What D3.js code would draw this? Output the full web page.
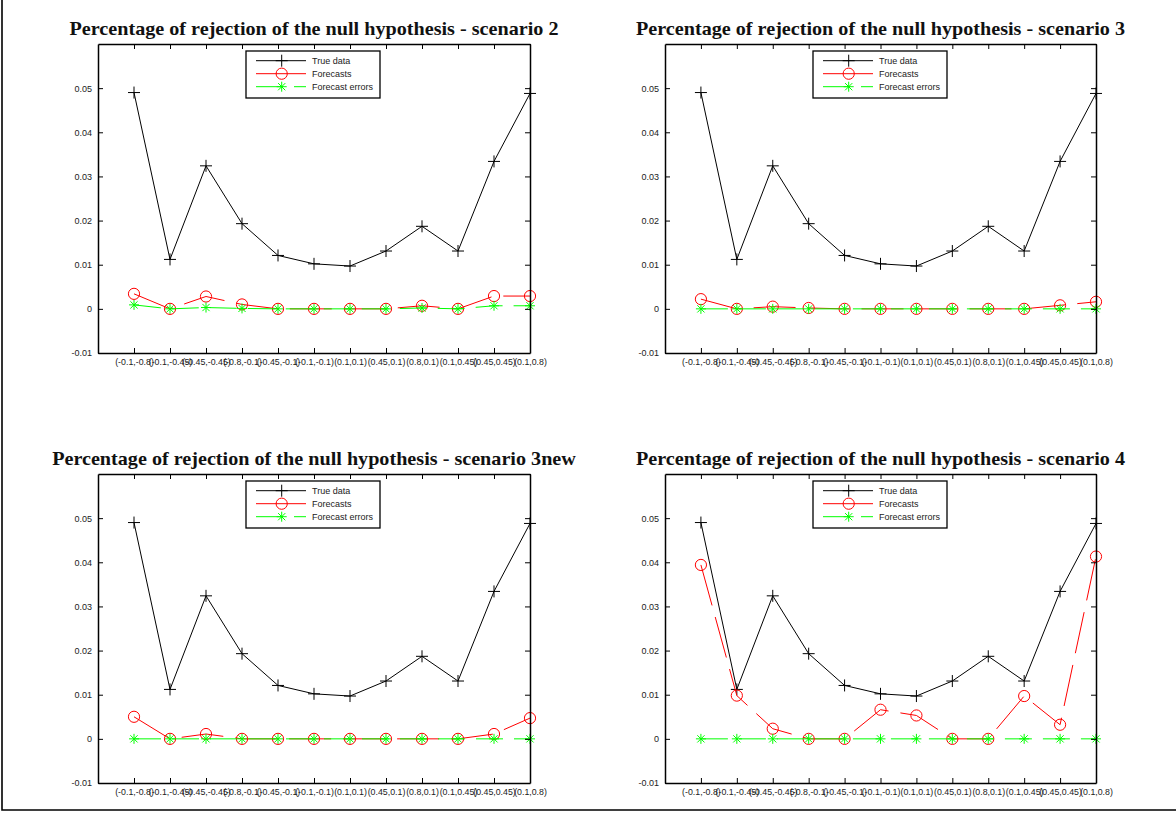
<!DOCTYPE html>
<html>
<head>
<meta charset="utf-8">
<script src="https://cdn.jsdelivr.net/npm/d3@7"></script>
<style>
  html, body { margin: 0; padding: 0; background: #fff; }
  svg { display: block; }
</style>
</head>
<body>
<svg id="fig" width="1176" height="814"></svg>
<script>
// Parameter pairs on the x axis
const categories = ["(-0.1,-0.8)", "(-0.1,-0.45)", "(-0.45,-0.45)", "(-0.8,-0.1)", "(-0.45,-0.1)", "(-0.1,-0.1)",
                    "(0.1,0.1)", "(0.45,0.1)", "(0.8,0.1)", "(0.1,0.45)", "(0.45,0.45)", "(0.1,0.8)"];
const yTickValues = [-0.01, 0, 0.01, 0.02, 0.03, 0.04, 0.05];
const yTickLabels = ["-0.01", "0", "0.01", "0.02", "0.03", "0.04", "0.05"];
const legendLabels = ["True data", "Forecasts", "Forecast errors"];

// Rejection rates of the null hypothesis
const trueData = [0.0490, 0.0112, 0.0324, 0.0193, 0.0121, 0.0102, 0.0097, 0.0131, 0.0187, 0.0131, 0.0334, 0.0488];

const forecastsScenario2 = [0.0034, 0, 0.0028, 0.0010, 0, 0, 0, 0, 0.0007, 0, 0.0029, 0.0029];
const errorsScenario2    = [0.0009, 0, 0.0003, 0.0001, 0, 0, 0, 0, 0.0002, 0, 0.0007, 0.0007];

const forecastsScenario3 = [0.0022, 0, 0.0005, 0.0002, 0, 0, 0, 0, 0, 0, 0.0008, 0.0016];
const errorsScenario3    = [0, 0, 0, 0, 0, 0, 0, 0, 0, 0, 0, 0];

const forecastsScenario3new = [0.0050, 0, 0.0011, 0, 0, 0, 0, 0, 0, 0, 0.0011, 0.0047];
const errorsScenario3new    = [0, 0, 0, 0, 0, 0, 0, 0, 0, 0, 0, 0];

const forecastsScenario4 = [0.0394, 0.0098, 0.0023, 0, 0, 0.0066, 0.0053, 0, 0, 0.0097, 0.0032, 0.0413];
const errorsScenario4    = [0, 0, 0, 0, 0, 0, 0, 0, 0, 0, 0, 0];

const panelTitles = [
  "Percentage of rejection of the null hypothesis - scenario 2",
  "Percentage of rejection of the null hypothesis - scenario 3",
  "Percentage of rejection of the null hypothesis - scenario 3new",
  "Percentage of rejection of the null hypothesis - scenario 4"
];

const panels = [
  { title: panelTitles[0], forecasts: forecastsScenario2,    errors: errorsScenario2,    x0: 98,  x1: 530,  y0: 44,  y1: 353 },
  { title: panelTitles[1], forecasts: forecastsScenario3,    errors: errorsScenario3,    x0: 665, x1: 1096, y0: 44,  y1: 353 },
  { title: panelTitles[2], forecasts: forecastsScenario3new, errors: errorsScenario3new, x0: 98,  x1: 530,  y0: 474, y1: 783 },
  { title: panelTitles[3], forecasts: forecastsScenario4,    errors: errorsScenario4,    x0: 665, x1: 1096, y0: 474, y1: 783 }
];

const BLACK = "#000000", RED = "#ff0000", GREEN = "#00ff00";
const svg = d3.select("#fig");

// figure frame (left and bottom edges)
svg.append("path")
  .attr("d", "M2,0 V810 H1176")
  .attr("fill", "none").attr("stroke", "#000").attr("stroke-width", 1.6);

// marker shapes
function plusPath(s) { return `M${-s},0H${s}M0,${-s}V${s}`; }
function starPath(s) { const d = s * 0.72; return `M${-s},0H${s}M0,${-s}V${s}M${-d},${-d}L${d},${d}M${-d},${d}L${d},${-d}`; }

function drawMarkers(g, pts, kind, color) {
  pts.forEach(([px, py]) => {
    if (kind === "plus") {
      g.append("path").attr("d", plusPath(6)).attr("transform", `translate(${px},${py})`)
        .attr("stroke", color).attr("stroke-width", 1).attr("fill", "none");
    } else if (kind === "circle") {
      g.append("circle").attr("cx", px).attr("cy", py).attr("r", 5.6)
        .attr("stroke", color).attr("stroke-width", 1).attr("fill", "none");
    } else {
      g.append("path").attr("d", starPath(5)).attr("transform", `translate(${px},${py})`)
        .attr("stroke", color).attr("stroke-width", 1).attr("fill", "none");
    }
  });
}

const titleNodes = [];

panels.forEach(p => {
  const g = svg.append("g");
  const x = d3.scaleLinear().domain([0, 12]).range([p.x0, p.x1]);
  const y = d3.scaleLinear().domain([-0.01, 0.06]).range([p.y1, p.y0]);
  const idx = d3.range(1, 13);

  // series
  const line = d3.line().x((d, i) => x(i + 1)).y(d => y(d));
  const series = [
    { data: trueData,    color: BLACK, dash: null,    kind: "plus" },
    { data: p.forecasts, color: RED,   dash: "42,12", kind: "circle" },
    { data: p.errors,    color: GREEN, dash: "27,11", kind: "star" }
  ];
  series.forEach(s => {
    g.append("path").datum(s.data).attr("d", line)
      .attr("fill", "none").attr("stroke", s.color).attr("stroke-width", 1)
      .attr("stroke-dasharray", s.dash);
    drawMarkers(g, s.data.map((d, i) => [x(i + 1), y(d)]), s.kind, s.color);
  });

  // axes with inward ticks on all four sides
  const fmtY = v => yTickLabels[yTickValues.findIndex(t => Math.abs(t - v) < 1e-9)];
  const axB = g.append("g").attr("transform", `translate(0,${p.y1})`)
    .call(d3.axisBottom(x).tickValues(idx).tickFormat(i => categories[i - 1]).tickSize(-5).tickSizeOuter(0).tickPadding(6));
  const axL = g.append("g").attr("transform", `translate(${p.x0},0)`)
    .call(d3.axisLeft(y).tickValues(yTickValues).tickFormat(fmtY).tickSize(-5).tickSizeOuter(0).tickPadding(6));
  const axT = g.append("g").attr("transform", `translate(0,${p.y0})`)
    .call(d3.axisTop(x).tickValues(idx).tickFormat("").tickSize(-5).tickSizeOuter(0));
  const axR = g.append("g").attr("transform", `translate(${p.x1},0)`)
    .call(d3.axisRight(y).tickValues(yTickValues).tickFormat("").tickSize(-5).tickSizeOuter(0));
  [axB, axL, axT, axR].forEach(a => {
    a.attr("font-family", "'Liberation Sans', Arial, sans-serif").attr("font-size", 9);
    a.select(".domain").attr("stroke-width", 1.5);
    a.selectAll(".tick line").attr("stroke-width", 1);
    a.selectAll(".tick text").attr("fill", "#222");
  });
  axB.attr("font-size", 8.8);

  // title
  const t = svg.append("text")
    .attr("x", (p.x0 + p.x1) / 2).attr("y", p.y0 - 9)
    .attr("text-anchor", "middle")
    .attr("font-family", "'Liberation Serif', 'Times New Roman', serif")
    .attr("font-weight", "bold").attr("font-size", 19.5)
    .attr("fill", "#111")
    .text(p.title);
  titleNodes.push(t);

  // legend
  const lx = p.x0 + 148, ly = p.y0 + 7;
  const lg = g.append("g").attr("transform", `translate(${lx},${ly})`);
  lg.append("rect").attr("x", 0).attr("y", 0).attr("width", 134).attr("height", 47)
    .attr("fill", "#fff").attr("stroke", "#000").attr("stroke-width", 1.3);
  const rows = [
    { label: legendLabels[0], color: BLACK, dash: null,    kind: "plus" },
    { label: legendLabels[1], color: RED,   dash: null,    kind: "circle" },
    { label: legendLabels[2], color: GREEN, dash: "27,11", kind: "star" }
  ];
  rows.forEach((r, i) => {
    const ry = 9.7 + i * 13;
    lg.append("line").attr("x1", 10).attr("x2", 60).attr("y1", ry).attr("y2", ry)
      .attr("stroke", r.color).attr("stroke-width", 1).attr("stroke-dasharray", r.dash);
    drawMarkers(lg, [[35.7, ry]], r.kind, r.color);
    lg.append("text").attr("x", 66).attr("y", ry + 3.2)
      .attr("font-family", "'Liberation Sans', Arial, sans-serif").attr("font-size", 9)
      .attr("fill", "#222").text(r.label);
  });
});

// condense titles so the shared prefix spans the same width in every panel
const w0 = titleNodes[0].node().getComputedTextLength();
const k = 489 / w0;
titleNodes.forEach(t => {
  const w = t.node().getComputedTextLength();
  t.attr("textLength", w * k).attr("lengthAdjust", "spacingAndGlyphs");
});
</script>
</body>
</html>
